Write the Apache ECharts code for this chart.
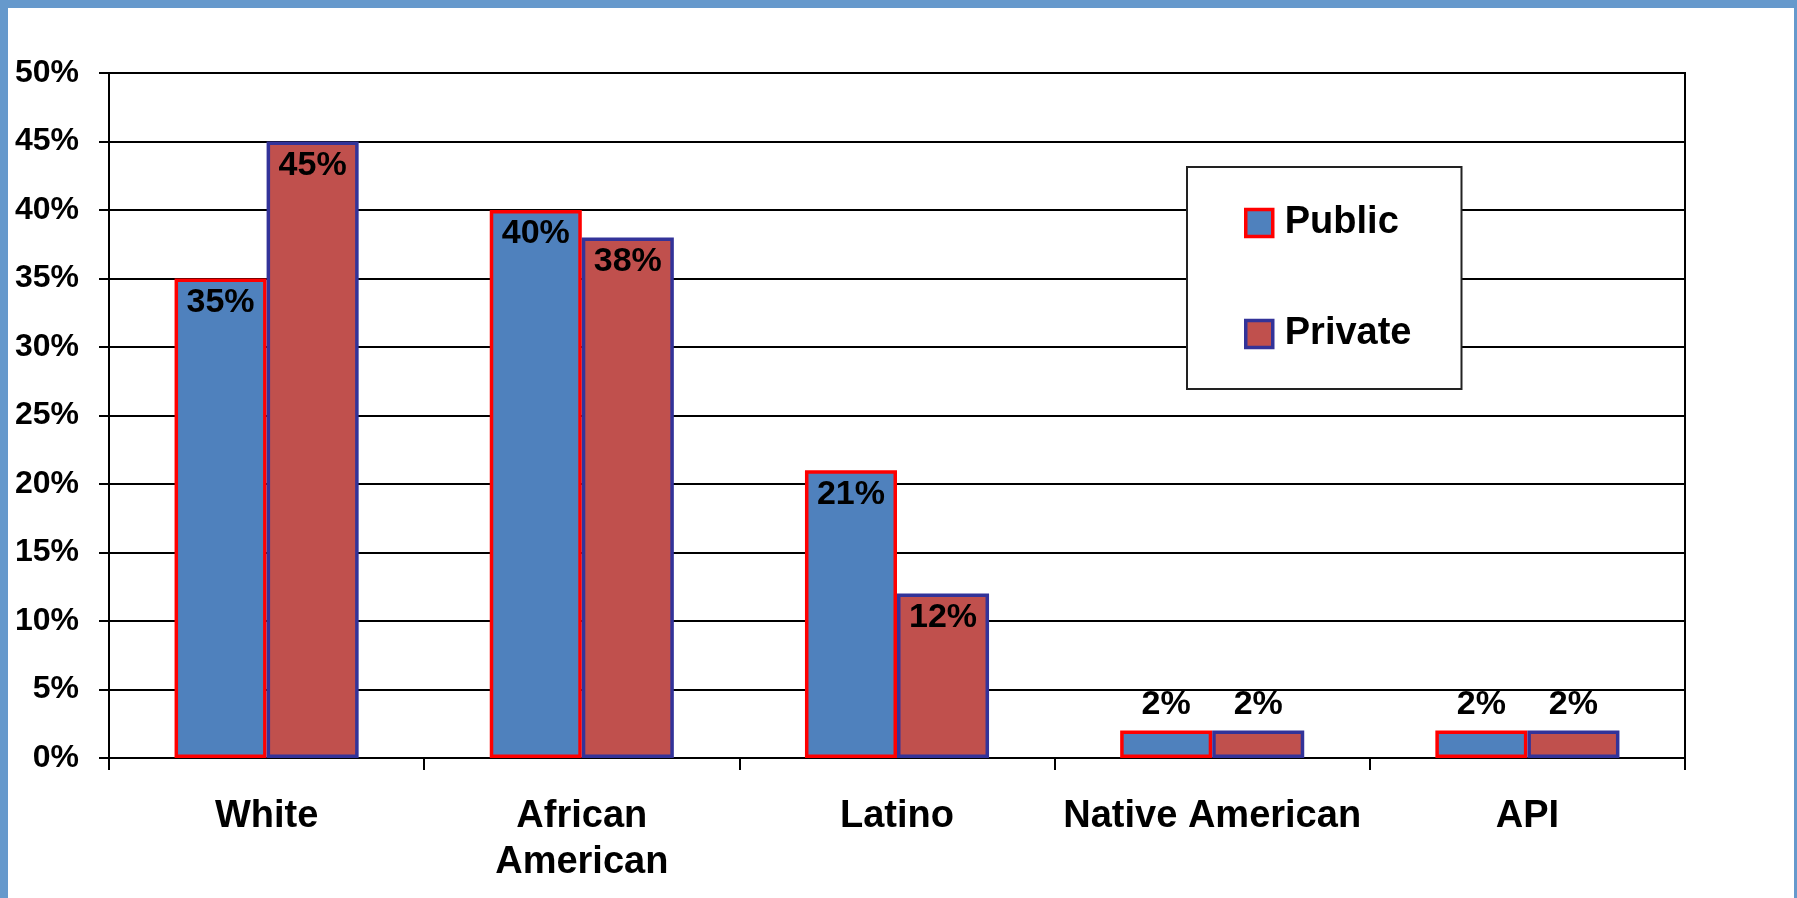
<!DOCTYPE html>
<html>
<head>
<meta charset="utf-8">
<script src="https://cdn.jsdelivr.net/npm/echarts@6/dist/echarts.min.js"></script>
<style>
html,body{margin:0;padding:0;background:#fff;}
#chart{width:1797px;height:898px;}
</style>
</head>
<body>
<div id="chart"></div>
<script>
const categories = ['White', 'African\nAmerican', 'Latino', 'Native American', 'API'];
const publicValues = [35, 40, 21, 2, 2];
const privateValues = [45, 38, 12, 2, 2];
const seriesNames = ['Public', 'Private'];

const FONT = '"Liberation Sans", Arial, sans-serif';
const seriesStyles = [
  { color: '#4f81bd', borderColor: '#ff0000', borderWidth: 3.5 },
  { color: '#c0504d', borderColor: '#333399', borderWidth: 3.5 }
];

function buildData(values) {
  return values.map(v => ({
    value: v,
    label: v < 5 ? { position: 'top', distance: 9 } : { position: 'insideTop', distance: 7 }
  }));
}

const chart = echarts.init(document.getElementById('chart'), null, { renderer: 'canvas' });
chart.setOption({
  backgroundColor: '#ffffff',
  animation: false,
  graphic: [
    { type: 'rect', left: 0, top: 0, shape: { width: 1797, height: 8 }, style: { fill: '#6699cc' }, z: 100 },
    { type: 'rect', left: 0, top: 0, shape: { width: 8, height: 898 }, style: { fill: '#6699cc' }, z: 100 },
    { type: 'rect', left: 1794, top: 0, shape: { width: 3, height: 898 }, style: { fill: '#6699cc' }, z: 100 }
  ],
  grid: {
    left: 109, right: 112, top: 73, bottom: 140,
    show: true, borderColor: '#000', borderWidth: 2, backgroundColor: 'transparent'
  },
  legend: {
    orient: 'vertical',
    left: 1187, top: 167,
    padding: [37, 50, 36, 57],
    itemGap: 73,
    itemWidth: 27, itemHeight: 27,
    icon: 'rect',
    backgroundColor: '#fff',
    borderColor: '#222',
    borderWidth: 2,
    textStyle: { fontFamily: FONT, fontWeight: 'bold', fontSize: 38, color: '#000', lineHeight: 38, padding: [0, 0, 0, 7] },
    data: seriesNames.map((n, i) => ({ name: n, itemStyle: seriesStyles[i] }))
  },
  xAxis: {
    type: 'category',
    data: categories,
    axisLine: { lineStyle: { color: '#000', width: 2 } },
    axisTick: { show: true, length: 12, lineStyle: { color: '#000', width: 2 } },
    axisLabel: {
      interval: 0, margin: 36,
      fontFamily: FONT, fontWeight: 'bold', fontSize: 38, color: '#000', lineHeight: 46
    },
    splitLine: { show: false }
  },
  yAxis: {
    type: 'value',
    min: 0, max: 50, interval: 5,
    axisLine: { show: true, lineStyle: { color: '#000', width: 2 } },
    axisTick: { show: true, length: 10, lineStyle: { color: '#000', width: 2 } },
    axisLabel: {
      formatter: '{value}%', margin: 30,
      fontFamily: FONT, fontWeight: 'bold', fontSize: 32, color: '#000'
    },
    splitLine: { show: true, lineStyle: { color: '#000', width: 2 } }
  },
  series: [
    {
      name: seriesNames[0], type: 'bar',
      data: buildData(publicValues),
      barGap: '0%', barCategoryGap: '41.6%',
      itemStyle: seriesStyles[0],
      label: { show: true, formatter: '{c}%', fontFamily: FONT, fontWeight: 'bold', fontSize: 34, color: '#000' }
    },
    {
      name: seriesNames[1], type: 'bar',
      data: buildData(privateValues),
      barGap: '0%', barCategoryGap: '41.6%',
      itemStyle: seriesStyles[1],
      label: { show: true, formatter: '{c}%', fontFamily: FONT, fontWeight: 'bold', fontSize: 34, color: '#000' }
    }
  ]
});
</script>
</body>
</html>
